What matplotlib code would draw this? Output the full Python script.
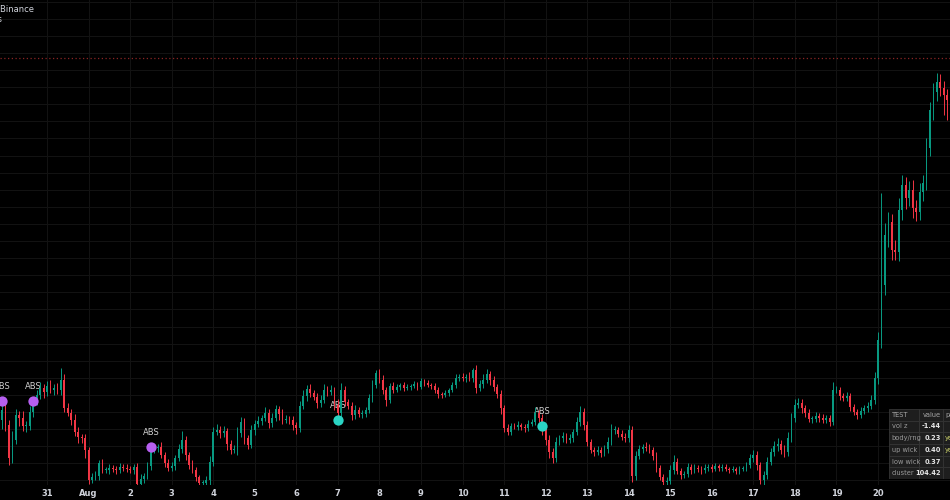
import numpy as np
import pandas as pd
import matplotlib
matplotlib.use('Agg')
import matplotlib.pyplot as plt
from matplotlib.patches import Rectangle

# closes of 2h candles, Jul 29 22:00 -> Aug 21
closes = [
    19.0,
    17.5, 14.2, 16.0, 18.5, 18.2, 17.4, 17.4, 18.8, 19.8, 20.5, 21.2, 20.8,   # Jul 30
    21.4, 21.0, 21.2, 21.0, 22.0, 19.2, 18.7, 18.0, 16.8, 16.3, 16.2, 15.0,   # Jul 31
    12.0, 12.3, 12.4, 13.7, 13.0, 13.0, 13.2, 13.1, 13.0, 13.3, 13.2, 13.1,   # Aug 1
    13.0, 13.3, 11.6, 12.1, 12.4, 13.4, 15.0, 15.2, 15.3, 14.5, 13.7, 13.2,   # Aug 2
    13.4, 14.2, 15.1, 16.0, 14.5, 13.5, 13.0, 12.3, 11.7, 11.7, 12.0, 13.8,   # Aug 3
    16.8, 17.0, 16.7, 16.9, 15.6, 15.0, 15.0, 16.7, 17.8, 16.2, 15.5, 17.0,   # Aug 4
    17.6, 17.9, 18.2, 18.7, 17.7, 18.2, 19.1, 18.6, 18.0, 18.1, 18.0, 17.5,   # Aug 5
    17.2, 19.4, 20.4, 21.1, 20.7, 20.3, 19.7, 20.0, 21.0, 20.8, 21.0, 19.5,   # Aug 6
    18.7, 21.0, 19.8, 19.4, 18.5, 19.0, 18.6, 18.6, 19.0, 20.2, 21.5, 22.7,   # Aug 7
    22.0, 21.0, 20.0, 21.4, 21.0, 21.3, 21.5, 21.2, 21.3, 21.4, 21.6, 21.3,   # Aug 8
    21.9, 21.7, 21.5, 21.4, 21.0, 20.6, 20.5, 20.7, 21.0, 21.5, 22.2, 22.3,   # Aug 9
    22.2, 22.3, 22.2, 23.0, 21.2, 21.6, 22.0, 22.6, 22.0, 21.3, 20.6, 19.2,   # Aug 10
    17.2, 16.8, 17.4, 17.3, 17.5, 17.3, 17.2, 17.6, 17.8, 18.7, 18.2, 17.0,   # Aug 11
    16.0, 14.8, 14.2, 15.8, 16.2, 16.4, 16.0, 16.2, 16.8, 17.8, 18.8, 17.5,   # Aug 12
    15.8, 15.0, 14.8, 15.0, 14.7, 15.1, 15.8, 17.0, 17.0, 16.6, 16.3, 16.2,   # Aug 13
    17.0, 12.4, 14.4, 15.1, 15.3, 15.2, 15.0, 14.4, 13.2, 12.3, 11.8, 11.9,   # Aug 14
    13.0, 13.8, 12.9, 12.5, 12.6, 13.3, 13.0, 13.2, 13.1, 13.0, 13.2, 13.3,   # Aug 15
    13.1, 13.4, 13.2, 13.3, 13.1, 13.0, 13.1, 12.9, 13.1, 13.2, 13.5, 14.2,   # Aug 16
    14.5, 13.5, 12.0, 12.5, 13.8, 14.8, 15.4, 15.6, 15.0, 14.8, 16.2, 18.2,   # Aug 17
    19.5, 19.7, 19.2, 18.7, 18.1, 18.1, 18.4, 18.2, 18.0, 18.2, 17.8, 21.0,   # Aug 18
    21.0, 20.4, 20.2, 20.4, 19.3, 18.8, 18.5, 18.9, 19.2, 19.4, 20.0, 22.2,   # Aug 19
    26.0, 31.5, 36.5, 37.8, 35.0, 34.8, 39.0, 41.5, 40.2, 41.0, 39.2, 38.8,   # Aug 20
    40.8, 41.7, 45.2, 49.0, 50.8, 51.8, 51.2, 50.5, 50.0,                     # Aug 21
]
first_open = 18.0

# how far the wicks reach past the body, per candle
hi_ext = [
    0.6,
    0.8, 0.5, 0.9, 0.6, 0.4, 0.7, 0.5, 0.6, 0.4, 0.5, 0.6, 0.4,
    0.5, 0.6, 0.4, 0.5, 1.2, 0.6, 0.5, 0.4, 0.6, 0.5, 0.3, 0.4,
    0.3, 0.4, 0.5, 0.3, 0.4, 0.3, 0.4, 0.3, 0.3, 0.4, 0.3, 0.4,
    0.3, 0.3, 0.4, 0.5, 0.3, 0.4, 0.5, 0.4, 0.3, 0.5, 0.3, 0.4,
    0.4, 0.3, 0.5, 0.9, 0.4, 0.3, 0.5, 0.3, 0.2, 0.3, 0.4, 0.6,
    0.5, 0.6, 0.4, 0.5, 0.3, 0.4, 0.5, 0.6, 0.5, 0.4, 0.3, 0.5,
    0.4, 0.5, 0.3, 0.6, 0.4, 0.5, 0.4, 0.3, 0.5, 0.4, 0.3, 0.4,
    0.3, 0.5, 0.6, 0.4, 0.5, 0.3, 0.4, 0.5, 0.6, 0.4, 0.5, 0.3,
    0.6, 0.7, 0.4, 0.3, 0.4, 0.5, 0.3, 0.4, 0.3, 0.4, 0.5, 0.6,
    0.4, 0.5, 0.3, 0.3, 0.4, 0.3, 0.2, 0.3, 0.3, 0.2, 0.3, 0.2,
    0.3, 0.2, 0.3, 0.2, 0.3, 0.3, 0.2, 0.3, 0.2, 0.3, 0.4, 0.3,
    0.4, 0.3, 0.5, 0.4, 0.5, 0.4, 0.6, 0.5, 0.3, 0.4, 0.3, 0.4,
    0.3, 0.4, 0.3, 0.3, 0.4, 0.2, 0.3, 0.4, 0.3, 0.6, 0.3, 0.4,
    0.4, 0.5, 0.4, 0.5, 0.3, 0.4, 0.3, 0.4, 0.3, 0.5, 0.6, 0.4,
    0.4, 0.3, 0.3, 0.4, 0.3, 0.4, 0.5, 0.6, 0.4, 0.3, 0.4, 0.4,
    0.5, 0.4, 0.5, 0.4, 0.3, 0.5, 0.4, 0.3, 0.4, 0.3, 0.3, 0.4,
    0.5, 0.7, 0.4, 0.3, 0.3, 0.4, 0.3, 0.4, 0.3, 0.3, 0.4, 0.3,
    0.3, 0.3, 0.2, 0.3, 0.3, 0.2, 0.3, 0.2, 0.3, 0.2, 0.3, 0.4,
    0.5, 0.4, 0.3, 0.4, 0.5, 0.4, 0.5, 0.6, 0.4, 0.5, 0.6, 0.5,
    0.6, 0.5, 0.4, 0.3, 0.4, 0.3, 0.4, 0.3, 0.4, 0.3, 0.3, 0.6,
    0.4, 0.3, 0.3, 0.4, 0.3, 0.3, 0.3, 0.4, 0.3, 0.4, 0.5, 0.6,
    0.8, 1.0, 1.2, 1.0, 0.8, 1.0, 1.2, 1.0, 0.8, 0.9, 1.0, 0.8,
    0.9, 0.8, 1.0, 0.8, 0.9, 0.9, 0.8, 0.7, 0.6,
]
lo_ext = [
    0.9,
    0.6, 0.7, 0.5, 0.4, 0.8, 0.5, 0.6, 0.4, 0.5, 0.3, 0.4, 0.6,
    0.4, 0.3, 0.5, 0.4, 0.5, 0.4, 0.3, 0.5, 0.4, 0.6, 0.5, 0.8,
    0.4, 0.3, 0.3, 0.4, 0.3, 0.3, 0.4, 0.3, 0.4, 0.3, 0.3, 0.3,
    0.3, 0.4, 0.4, 0.3, 0.4, 0.3, 0.4, 0.3, 0.4, 0.3, 0.4, 0.3,
    0.3, 0.4, 0.3, 0.4, 0.5, 0.4, 0.3, 0.4, 0.3, 0.3, 0.4, 0.5,
    0.4, 0.3, 0.5, 0.4, 0.6, 0.4, 0.3, 0.5, 0.4, 0.6, 0.4, 0.3,
    0.5, 0.3, 0.4, 0.3, 0.5, 0.4, 0.3, 0.6, 0.4, 0.3, 0.4, 0.5,
    0.6, 0.4, 0.3, 0.5, 0.4, 0.3, 0.5, 0.4, 0.3, 0.4, 0.3, 0.5,
    0.4, 0.5, 0.4, 0.3, 0.5, 0.4, 0.3, 0.4, 0.3, 0.3, 0.4, 0.3,
    0.3, 0.4, 0.6, 0.3, 0.3, 0.2, 0.3, 0.3, 0.2, 0.3, 0.2, 0.3,
    0.2, 0.3, 0.2, 0.3, 0.3, 0.4, 0.3, 0.2, 0.3, 0.2, 0.3, 0.3,
    0.3, 0.4, 0.3, 0.4, 0.5, 0.3, 0.4, 0.3, 0.5, 0.4, 0.4, 0.6,
    0.4, 0.3, 0.3, 0.2, 0.3, 0.3, 0.4, 0.3, 0.2, 0.3, 0.4, 0.5,
    0.5, 0.6, 0.5, 0.4, 0.3, 0.4, 0.3, 0.3, 0.4, 0.3, 0.4, 0.5,
    0.4, 0.3, 0.4, 0.3, 0.4, 0.3, 0.4, 0.3, 0.4, 0.3, 0.3, 0.4,
    0.4, 0.6, 0.4, 0.3, 0.4, 0.3, 0.3, 0.4, 0.4, 0.3, 0.4, 0.3,
    0.3, 0.4, 0.3, 0.4, 0.3, 0.3, 0.4, 0.3, 0.3, 0.4, 0.3, 0.3,
    0.3, 0.2, 0.3, 0.3, 0.2, 0.3, 0.2, 0.3, 0.3, 0.2, 0.3, 0.3,
    0.4, 0.5, 0.4, 0.5, 0.4, 0.3, 0.4, 0.5, 0.4, 0.5, 0.4, 0.4,
    0.4, 0.3, 0.5, 0.4, 0.3, 0.4, 0.3, 0.4, 0.3, 0.3, 0.4, 0.3,
    0.3, 0.4, 0.3, 0.3, 0.4, 0.3, 0.4, 0.3, 0.3, 0.4, 0.3, 0.4,
    0.6, 0.8, 1.0, 1.2, 1.0, 0.8, 0.9, 1.0, 1.1, 0.8, 1.0, 0.9,
    0.8, 0.9, 0.7, 0.8, 1.0, 0.9, 0.8, 2.0, 0.8,
]

# wick extremes that stick out further (candle index -> price)
wick_highs = {17: 23.2, 108: 23.0, 136: 23.2, 240: 21.8, 254: 40.7, 270: 52.7}
wick_lows = {273: 48.0}

# signal markers: candle index, price, kind
sig_idx = [0, 9, 43, 97, 156]
sig_price = [19.9, 19.9, 15.3, 18.0, 17.4]
sig_kind = ['bear', 'bear', 'bear', 'bull', 'bull']
sig_text = ['ABS', 'ABS', 'ABS', 'ABS', 'ABS']

level_price = 54.2

tbl_header = ['TEST', 'value', 'pass']
tbl_names = ['vol z', 'body/rng', 'up wick', 'low wick', 'cluster']
tbl_values = ['-1.44', '0.23', '0.40', '0.37', '104.42']
tbl_pass = ['', 'yes', 'yes', '', '']

UP = '#089981'
DOWN = '#f23645'
BG = '#000000'
GRID = '#121212'
TXT = '#d1d4dc'

n = len(closes)
assert len(hi_ext) == n and len(lo_ext) == n
times = pd.date_range('2023-07-29 22:00', periods=n, freq='2h')
c = np.array(closes)
o = np.concatenate([[first_open], c[:-1]])
hi = np.maximum(o, c) + np.array(hi_ext)
lo = np.minimum(o, c) - np.array(lo_ext)
for k, v in wick_highs.items():
    hi[k] = v
for k, v in wick_lows.items():
    lo[k] = v
x = np.arange(n)
up = c >= o
col = np.where(up, UP, DOWN)

fig = plt.figure(figsize=(9.5, 5), dpi=100, facecolor=BG)
ax = fig.add_axes([0, 15 / 500, 1, 485 / 500])
ax.set_facecolor(BG)

# wicks + bodies
ax.vlines(x, lo, hi, colors=col, linewidth=0.7, zorder=3)
body_h = np.maximum(np.abs(c - o), 0.06)
ax.bar(x, body_h, bottom=np.minimum(o, c), width=0.5, color=col, linewidth=0, zorder=4)

# signals, labels sit under the candles
for i, p, kind, t in zip(sig_idx, sig_price, sig_kind, sig_text):
    mc = '#b65ff0' if kind == 'bear' else '#2ad4c4'
    ax.scatter([i], [p], s=55, color=mc, zorder=5, linewidths=0)
    ax.annotate(t, (i, p), xytext=(0, 7), textcoords='offset points',
                ha='center', va='bottom', fontsize=6, color='#d0d0d0', zorder=2)

ax.axhline(level_price, color='#8a2424', linestyle=(0, (1, 2)), linewidth=0.9, zorder=1)

# axes ranges (pixel 0..950 across)
ax.set_xlim(-0.58, 273.8)
ax.set_ylim(11.5, 60)

day_idx = [i for i, t in enumerate(times) if t.hour == 0 and 5 < i < 260]
day_lbl = ['Aug' if times[i].day == 1 else str(times[i].day) for i in day_idx]
ax.set_xticks(day_idx)
ax.set_xticklabels(day_lbl)
ax.set_yticks(53 + 1.71 * np.arange(-24, 5))
ax.set_yticklabels([])
ax.tick_params(axis='x', length=0, pad=3, labelsize=6, colors=TXT)
ax.tick_params(axis='y', length=0)
for lab in ax.get_xticklabels():
    lab.set_fontweight('bold')
ax.grid(True, color=GRID, linewidth=0.8, zorder=0)
ax.set_axisbelow(True)
for s in ax.spines.values():
    s.set_visible(False)

# title pieces cut by the left edge
fig.text(34 / 950, 1 - 9 / 500, 'ABSUSDT · 2h · Binance', ha='right', va='center',
         fontsize=6, color=TXT)
fig.text(3 / 950, 1 - 19 / 500, 'Vols', ha='right', va='center', fontsize=6, color=TXT)

# stats table at the bottom right
tx = fig.add_axes([889 / 950, (500 - 479) / 500, 121 / 950, 70 / 500])
tx.set_xlim(0, 121)
tx.set_ylim(70, 0)
tx.axis('off')
col_x = [0, 30, 54, 90]
row_h = 70 / 6
rows = [tbl_header] + [[a, b, d] for a, b, d in zip(tbl_names, tbl_values, tbl_pass)]
for r, row in enumerate(rows):
    for j in range(3):
        tx.add_patch(Rectangle((col_x[j], r * row_h), col_x[j + 1] - col_x[j], row_h,
                               facecolor='#1e1e1e', edgecolor='#353535', linewidth=0.6))
    yc = r * row_h + row_h / 2
    if r == 0:
        tx.text(2.5, yc, row[0], fontsize=4.8, color='#a6a6a6', va='center', ha='left')
        tx.text(52, yc, row[1], fontsize=4.8, color='#a6a6a6', va='center', ha='right')
        tx.text(56, yc, row[2], fontsize=4.8, color='#a6a6a6', va='center', ha='left')
    else:
        tx.text(2.5, yc, row[0], fontsize=4.8, color='#9a9a9a', va='center', ha='left')
        tx.text(52, yc, row[1], fontsize=4.8, color='#e6e6e6', va='center', ha='right',
                fontweight='bold')
        tx.text(56, yc, row[2], fontsize=4.8, color='#c9cf6a', va='center', ha='left')

fig.savefig('out.png', dpi=100, facecolor=BG)
